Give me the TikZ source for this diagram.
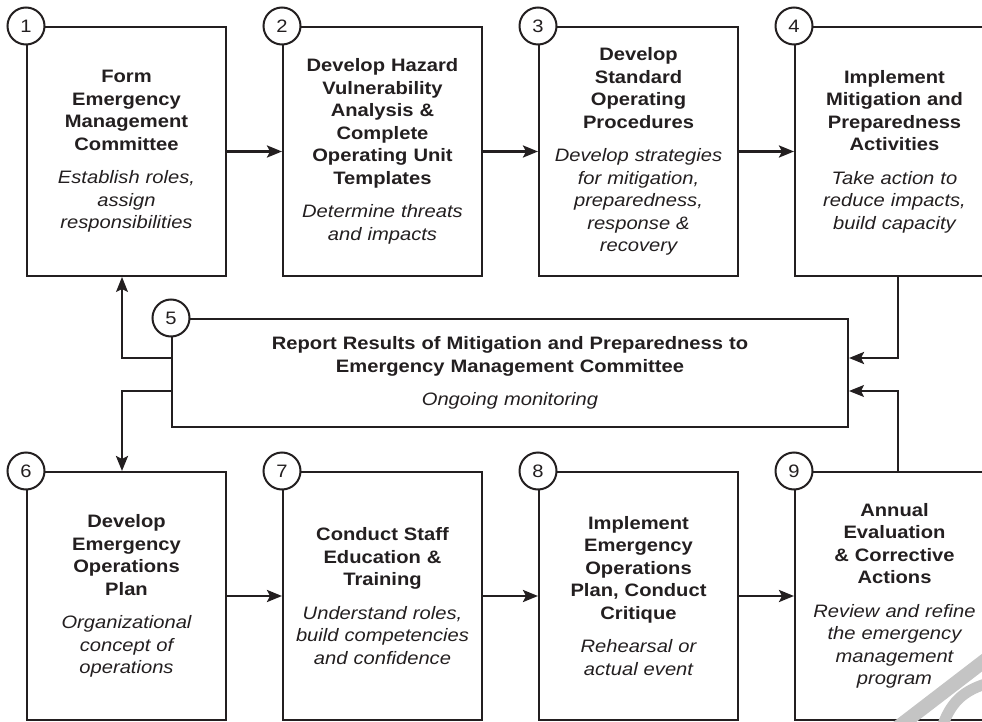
\documentclass[tikz,border=0pt]{standalone}
\usepackage{fontspec}
\setmainfont{Liberation Sans}[FakeStretch=1.12]
\usepackage{tikz}
\usetikzlibrary{arrows.meta, calc}
\definecolor{inkBlack}{RGB}{35,31,32}
\definecolor{markGray}{RGB}{196,196,196}
\newcommand{\stagebody}[2]{\bfseries #1\\[11pt]\mdseries\itshape #2}

\begin{document}
\begin{tikzpicture}[x=1pt, y=-1pt,
    stage/.style={draw=inkBlack, line width=2pt, fill=white, text=inkBlack, align=center, inner sep=0pt, text width=199pt, font=\fontsize{18}{22.5}\selectfont},
    stepnum/.style={circle, draw=inkBlack, line width=2pt, fill=white, text=inkBlack, minimum size=37pt, inner sep=0pt, font=\fontsize{18}{18}\selectfont},
    flow/.style={draw=inkBlack, line width=2.6pt, -{Stealth[length=15pt, width=12pt, inset=3pt]}},
    feedback/.style={draw=inkBlack, line width=1.2pt, -{Stealth[length=15pt, width=12pt, inset=3pt]}}]
    \clip (0,0) rectangle (982,722);
    % top row
    \node[stage, minimum height=249pt] (b1) at (126.5,151.5) {\stagebody{Form\\Emergency\\Management\\Committee}{Establish roles,\\assign\\responsibilities}};
    \node[stage, minimum height=249pt] (b2) at (382.5,151.5) {\stagebody{Develop Hazard\\Vulnerability\\Analysis \&\\Complete\\Operating Unit\\Templates}{Determine threats\\and impacts}};
    \node[stage, minimum height=249pt] (b3) at (638.5,151.5) {\stagebody{Develop\\Standard\\Operating\\Procedures}{Develop strategies\\for mitigation,\\preparedness,\\response \&\\recovery}};
    \node[stage, minimum height=249pt] (b4) at (894.5,151.5) {\stagebody{Implement\\Mitigation and\\Preparedness\\Activities}{Take action to\\reduce impacts,\\build capacity}};
    % report box
    \node[stage, text width=676pt, minimum height=108pt] (b5) at (510,373) {\stagebody{Report Results of Mitigation and Preparedness to\\Emergency Management Committee}{Ongoing monitoring}};
    % bottom row
    \node[stage, minimum height=248pt] (b6) at (126.5,596) {\stagebody{Develop\\Emergency\\Operations\\Plan}{Organizational\\concept of\\operations}};
    \node[stage, minimum height=248pt] (b7) at (382.5,596) {\stagebody{Conduct Staff\\Education \&\\Training}{Understand roles,\\build competencies\\and confidence}};
    \node[stage, minimum height=248pt] (b8) at (638.5,596) {\stagebody{Implement\\Emergency\\Operations\\Plan, Conduct\\Critique}{Rehearsal or\\actual event}};
    \node[stage, minimum height=248pt] (b9) at (894.5,596) {\stagebody{Annual\\Evaluation\\\& Corrective\\Actions}{Review and refine\\the emergency\\management\\program}};
    % connectors
    \draw[flow] (b1) -- (b2);
    \draw[flow] (b2) -- (b3);
    \draw[flow] (b3) -- (b4);
    \draw[flow] (b6) -- (b7);
    \draw[flow] (b7) -- (b8);
    \draw[flow] (b8) -- (b9);
    \draw[flow] ([xshift=3.5pt]b4.south) |- ([yshift=15pt]b5.east);
    \draw[feedback] ([xshift=3.5pt]b9.north) |- ([yshift=-18pt]b5.east);
    \draw[feedback] ([yshift=15pt]b5.west) -| ([xshift=-4.5pt]b1.south);
    \draw[flow] ([yshift=-18pt]b5.west) -| ([xshift=-4.5pt]b6.north);
    % step numbers
    \node[stepnum] (n1) at (b1.north west) {1};
    \node[stepnum] (n2) at (b2.north west) {2};
    \node[stepnum] (n3) at (b3.north west) {3};
    \node[stepnum] (n4) at (b4.north west) {4};
    \node[stepnum] (n5) at (b5.north west) {5};
    \node[stepnum] (n6) at (b6.north west) {6};
    \node[stepnum] (n7) at (b7.north west) {7};
    \node[stepnum] (n8) at (b8.north west) {8};
    \node[stepnum] (n9) at (b9.north west) {9};
    % faint mark in the corner
    \draw[markGray, line width=14pt] (992,655) -- (893,731);
    \draw[markGray, line width=11pt] (941,730) .. controls (950,703) and (962,690) .. (992,682);
\end{tikzpicture}
\end{document}
